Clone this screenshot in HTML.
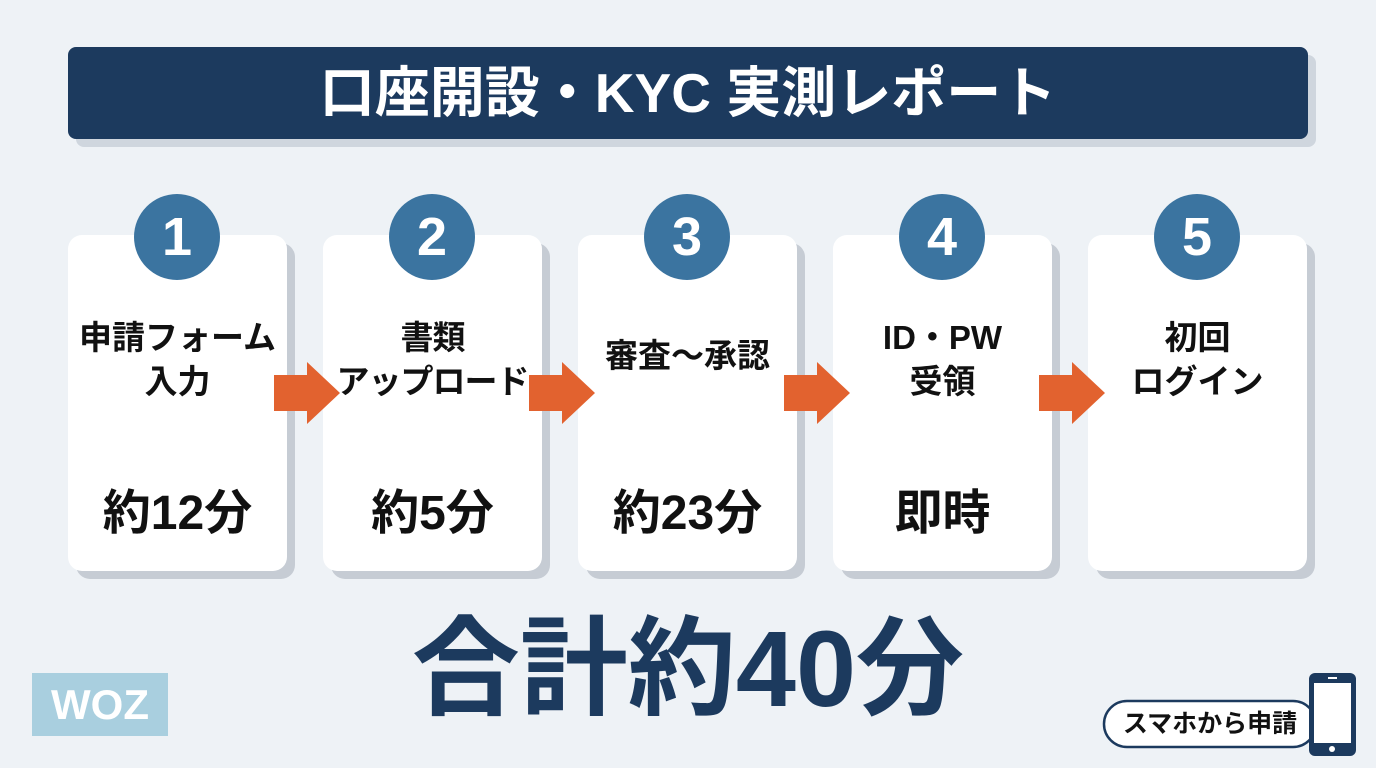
<!DOCTYPE html>
<html><head><meta charset="utf-8"><style>
*{margin:0;padding:0;box-sizing:border-box}
body{width:1376px;height:768px;background:#eef2f6;position:relative;overflow:hidden;font-family:"Liberation Sans","Noto Sans CJK JP",sans-serif;font-weight:bold}
.abs{position:absolute}
.title{left:68px;top:47px;width:1240px;height:92px;background:#1c3a5e;border-radius:8px;box-shadow:8px 8px 0 #cfd6de;color:#fff;font-size:55px;text-align:center;line-height:92px}
.card{top:235px;width:219px;height:336px;background:#fff;border-radius:14px;box-shadow:8px 8px 0 #c6ccd4}
.circ{width:86px;height:86px;border-radius:50%;background:#3b74a0;color:#fff;font-size:54px;text-align:center;line-height:86px;font-family:"Liberation Sans",sans-serif}
.lbl{top:316px;width:219px;text-align:center;font-size:33px;line-height:44px;color:#111}
.tm{top:484px;width:219px;text-align:center;font-size:48px;line-height:60px;color:#111}
</style></head><body>
<div class="abs title">口座開設・KYC 実測レポート</div>

<div class="abs card" style="left:68px"></div>
<div class="abs card" style="left:323px"></div>
<div class="abs card" style="left:578px"></div>
<div class="abs card" style="left:833px"></div>
<div class="abs card" style="left:1088px"></div>

<div class="abs circ" style="left:134px;top:194px">1</div>
<div class="abs circ" style="left:389px;top:194px">2</div>
<div class="abs circ" style="left:644px;top:194px">3</div>
<div class="abs circ" style="left:899px;top:194px">4</div>
<div class="abs circ" style="left:1154px;top:194px">5</div>

<div class="abs lbl" style="left:68px">申請フォーム<br>入力</div>
<div class="abs lbl" style="left:313px;width:239px;letter-spacing:-1px">書類<br>アップロード</div>
<div class="abs lbl" style="left:568px;width:239px;top:334px">審査〜承認</div>
<div class="abs lbl" style="left:833px">ID・PW<br>受領</div>
<div class="abs lbl" style="left:1088px">初回<br>ログイン</div>

<div class="abs tm" style="left:68px">約12分</div>
<div class="abs tm" style="left:323px">約5分</div>
<div class="abs tm" style="left:578px">約23分</div>
<div class="abs tm" style="left:833px">即時</div>

<svg class="abs" style="left:0;top:0" width="1376" height="768">
<g fill="#e2622f">
<polygon points="274,375 307,375 307,362 340,393 307,424 307,411 274,411"/>
<polygon points="529,375 562,375 562,362 595,393 562,424 562,411 529,411"/>
<polygon points="784,375 817,375 817,362 850,393 817,424 817,411 784,411"/>
<polygon points="1039,375 1072,375 1072,362 1105,393 1072,424 1072,411 1039,411"/>
</g>
<rect x="1104" y="701" width="212" height="46" rx="23" fill="#fff" stroke="#1c3a5e" stroke-width="2.5"/>
<rect x="1309" y="673" width="47" height="83" rx="6" fill="#1c3a5e"/>
<rect x="1314" y="683" width="37" height="60" fill="#fff"/>
<rect x="1328" y="677" width="9" height="2" fill="#fff"/>
<circle cx="1332" cy="749" r="3" fill="#fff"/>
</svg>
<div class="abs" style="left:1110px;top:707px;width:200px;text-align:center;font-size:25px;line-height:34px;color:#111">スマホから申請</div>

<div class="abs" style="left:32px;top:673px;width:136px;height:63px;background:#a9cfdf;color:#fff;font-size:42px;text-align:center;line-height:63px">WOZ</div>

<div class="abs" style="left:338px;top:604px;width:700px;text-align:center;font-size:108px;line-height:130px;color:#1c3a5e">合計約40分</div>
</body></html>
